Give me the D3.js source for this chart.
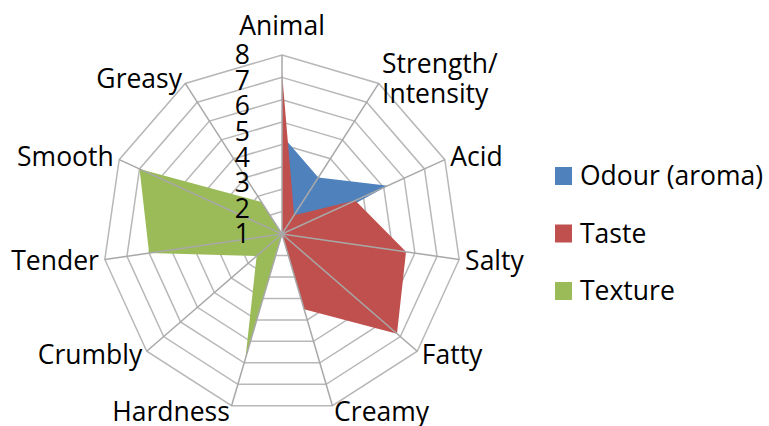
<!DOCTYPE html>
<html>
<head>
<meta charset="utf-8">
<script src="https://cdn.jsdelivr.net/npm/d3@7"></script>
<style>
  body { margin: 0; background: #fff; }
  text { font-family: "Open Sans", sans-serif; fill: #000; }
  .label { font-size: 26.5px; }
</style>
</head>
<body>
<svg id="chart" width="769" height="426"></svg>
<script>
const categories = [
  "Animal", "Strength/\nIntensity", "Acid", "Salty", "Fatty", "Creamy",
  "Hardness", "Crumbly", "Tender", "Smooth", "Greasy"
];
const seriesNames = ["Odour (aroma)", "Taste", "Texture"];
const odour = [4.4, 3.0, 5.2, 0.6, 0, 0, 0, 0, 0, 0, 0];
const taste = [7.2, 1.0, 3.6, 5.6, 6.8, 3.5, 0, 0, 0, 0, 0];
const texture = [0, 0, 0, 0, 0, 0, 5.8, 1.5, 6.0, 7.0, 1.7];
const ticks = [1, 2, 3, 4, 5, 6, 7, 8];
const colors = ["#4F81BD", "#C0504D", "#9BBB59"];

translate = function(a, b) {
  return "translate(" + a + ", " + b + ")";
}

radar = function() {
  const cx = 282, cy = 234, radius = 179;
  const svg = d3.select("#chart");
  const n = categories.length;

  let r = d3.scaleLinear().domain([0, 8]).range([0, radius]);
  let angle = d3.scaleLinear().domain([0, n]).range([0, 2 * Math.PI]);
  let color = d3.scaleOrdinal().domain(seriesNames).range(colors);

  let plot = svg.append("g").attr("transform", translate(cx, cy));

  // rings
  let ring = d3.lineRadial()
    .angle((d, i) => angle(i))
    .curve(d3.curveLinearClosed);

  plot.selectAll("path.ring")
    .data(ticks)
    .enter()
    .append("path")
    .attr("class", "ring")
    .attr("d", t => ring.radius(r(t))(categories))
    .attr("fill", "none")
    .attr("stroke", "#b8b8b8")
    .attr("stroke-width", 1.5);

  // filled series
  let area = d3.lineRadial()
    .angle((d, i) => angle(i))
    .radius(d => r(d))
    .curve(d3.curveLinearClosed);

  let series = [odour, taste, texture];
  plot.selectAll("path.series")
    .data(series)
    .enter()
    .append("path")
    .attr("class", "series")
    .attr("d", d => area(d))
    .attr("fill", (d, i) => color(seriesNames[i]));

  // spokes drawn over the fills
  plot.selectAll("line.spoke")
    .data(categories)
    .enter()
    .append("line")
    .attr("class", "spoke")
    .attr("x1", 0)
    .attr("y1", 0)
    .attr("x2", (d, i) => r(8) * Math.sin(angle(i)))
    .attr("y2", (d, i) => -r(8) * Math.cos(angle(i)))
    .attr("stroke", "#a8a8a8")
    .attr("stroke-width", 1.5);

  // category labels
  let pad = 6;
  let labels = plot.selectAll("text.cat")
    .data(categories)
    .enter()
    .append("text")
    .attr("class", "label cat")
    .attr("text-anchor", (d, i) => {
      let s = Math.sin(angle(i));
      return s > 0.05 ? "start" : (s < -0.05 ? "end" : "middle");
    })
    .attr("transform", (d, i) => {
      let a = angle(i);
      let x = (r(8) + pad) * Math.sin(a);
      let y = -(r(8) + pad) * Math.cos(a);
      if (Math.cos(a) > 0.95) y -= 23;
      return translate(x, y);
    });

  labels.each(function(d) {
    let lines = d.split("\n");
    let t = d3.select(this);
    lines.forEach((line, j) => {
      t.append("tspan")
        .attr("x", 0)
        .attr("y", (j - (lines.length - 1) / 2) * 30)
        .attr("dy", "0.35em")
        .text(line);
    });
  });

  // value labels along the first axis
  let tickPos = d3.scaleLinear().domain([1, 8]).range([0, r(8)]);
  plot.selectAll("text.tick")
    .data(ticks)
    .enter()
    .append("text")
    .attr("class", "label tick")
    .attr("text-anchor", "end")
    .attr("x", -32)
    .attr("y", t => -tickPos(t))
    .attr("dy", "0.35em")
    .text(t => t);

  // legend
  let legend = svg.append("g").attr("transform", translate(555, 176));
  let rows = legend.selectAll("g")
    .data(seriesNames)
    .enter()
    .append("g")
    .attr("transform", (d, i) => translate(0, i * 57.5));

  rows.append("rect")
    .attr("x", 0)
    .attr("y", -9)
    .attr("width", 17)
    .attr("height", 18)
    .attr("fill", d => color(d));

  rows.append("text")
    .attr("class", "label")
    .attr("x", 25)
    .attr("dy", "0.35em")
    .text(d => d);
}

radar();
</script>
</body>
</html>
